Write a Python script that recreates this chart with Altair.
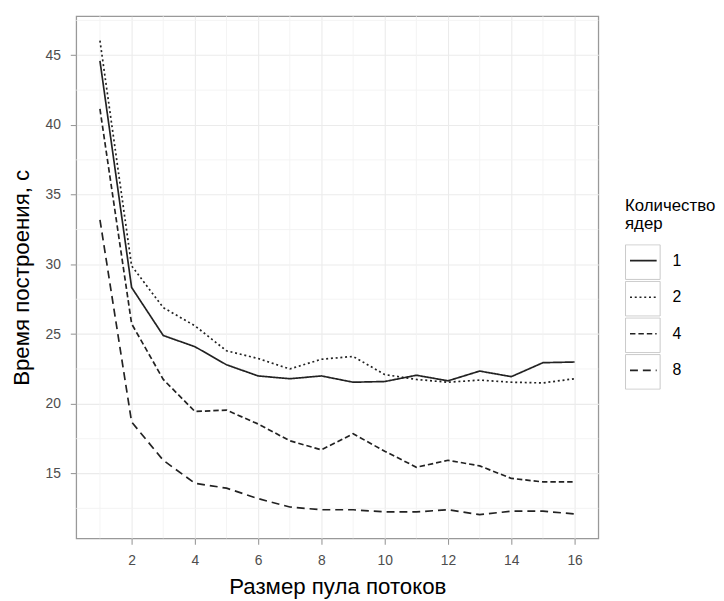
import altair as alt
import pandas as pd

threads = list(range(1, 17))
cores = ["1", "2", "4", "8"]
time_1 = [44.6, 28.35, 24.9, 24.1, 22.8, 22.0, 21.8, 22.0, 21.55, 21.6, 22.05, 21.65, 22.35, 21.95, 22.95, 23.0]
time_2 = [46.05, 29.9, 26.9, 25.6, 23.8, 23.25, 22.5, 23.2, 23.4, 22.1, 21.75, 21.55, 21.7, 21.55, 21.5, 21.8]
time_4 = [41.15, 25.75, 21.75, 19.45, 19.55, 18.55, 17.35, 16.7, 17.85, 16.6, 15.45, 15.95, 15.55, 14.65, 14.4, 14.4]
time_8 = [33.2, 18.7, 15.95, 14.3, 13.95, 13.2, 12.6, 12.4, 12.4, 12.25, 12.25, 12.4, 12.05, 12.3, 12.3, 12.1]

x_major = [2, 4, 6, 8, 10, 12, 14, 16]
x_minor = [1, 3, 5, 7, 9, 11, 13, 15]
y_major = [15, 20, 25, 30, 35, 40, 45]
y_minor = [12.5, 17.5, 22.5, 27.5, 32.5, 37.5, 42.5, 47.5]

rows = []
for c, ys in zip(cores, [time_1, time_2, time_4, time_8]):
    for t, v in zip(threads, ys):
        rows.append({"threads": t, "time": v, "cores": c, "box": c})
df = pd.DataFrame(rows)

FONT = "Liberation Sans"
x_scale = alt.Scale(domain=[0.25, 16.75], nice=False, zero=False)
y_scale = alt.Scale(domain=[10.35, 47.8], nice=False, zero=False)
x_axis = alt.Axis(values=x_major, title="Размер пула потоков", labelPadding=9, titlePadding=9)
y_axis = alt.Axis(values=y_major, title="Время построения, с", labelPadding=10, titlePadding=12)

minor_x = alt.Chart(pd.DataFrame({"threads": x_minor})).mark_rule(
    color="#f3f3f3", strokeWidth=0.9
).encode(x=alt.X("threads:Q", scale=x_scale, axis=x_axis))

minor_y = alt.Chart(pd.DataFrame({"time": y_minor})).mark_rule(
    color="#f3f3f3", strokeWidth=0.9
).encode(y=alt.Y("time:Q", scale=y_scale, axis=y_axis))

legend_common = dict(
    orient="none",
    legendX=555,
    padding=0,
    titleFont=FONT,
    titleFontSize=17,
    titleFontWeight="normal",
    titleColor="black",
    titleLineHeight=18,
    titlePadding=10,
    labelFont=FONT,
    labelFontSize=16,
    labelColor="black",
    labelOffset=11,
    symbolSize=1225,
    clipHeight=36.3,
    rowPadding=0,
)

boxes = alt.Chart(df).mark_point(filled=False, color="#c8c8c8", opacity=0).encode(
    x=alt.X("threads:Q", scale=x_scale, axis=x_axis),
    y=alt.Y("time:Q", scale=y_scale, axis=y_axis),
    shape=alt.Shape(
        "box:N",
        scale=alt.Scale(range=["square"] * 4),
        legend=alt.Legend(
            title=None,
            legendY=230.5,
            symbolType="square",
            symbolStrokeWidth=1,
            symbolStrokeColor="#c8c8c8",
            symbolOpacity=1,
            labelExpr="''",
            **legend_common,
        ),
    ),
)

lines = alt.Chart(df).mark_line(color="#222222", strokeWidth=1.7).encode(
    x=alt.X("threads:Q", scale=x_scale, axis=x_axis),
    y=alt.Y("time:Q", scale=y_scale, axis=y_axis),
    strokeDash=alt.StrokeDash(
        "cores:N",
        scale=alt.Scale(domain=cores, range=[[1, 0], [2, 2.8], [5.5, 3], [8, 5]]),
        legend=alt.Legend(
            title=["Количество", "ядер"],
            legendY=184,
            symbolType="M-0.77,0L0.77,0",
            symbolStrokeWidth=1.6,
            symbolStrokeColor="#222222",
            **legend_common,
        ),
    ),
)

chart = alt.layer(minor_x, minor_y, boxes, lines).properties(
    width=528,
    height=528,
    autosize=alt.AutoSizeParams(type="none"),
    padding={"left": 69, "top": 5, "right": 119, "bottom": 60},
).configure_view(
    stroke="#999999", strokeWidth=1.3
).configure_axis(
    labelFont=FONT,
    labelFontSize=14,
    labelColor="#4d4d4d",
    tickColor="#999999",
    tickSize=6,
    tickWidth=1.1,
    domain=False,
    grid=True,
    gridColor="#ebebeb",
    gridWidth=1.1,
    titleFont=FONT,
    titleFontSize=22.5,
    titleFontWeight="normal",
    titleColor="black",
)

chart.save("out.html", embed_options={"renderer": "svg", "actions": False})
